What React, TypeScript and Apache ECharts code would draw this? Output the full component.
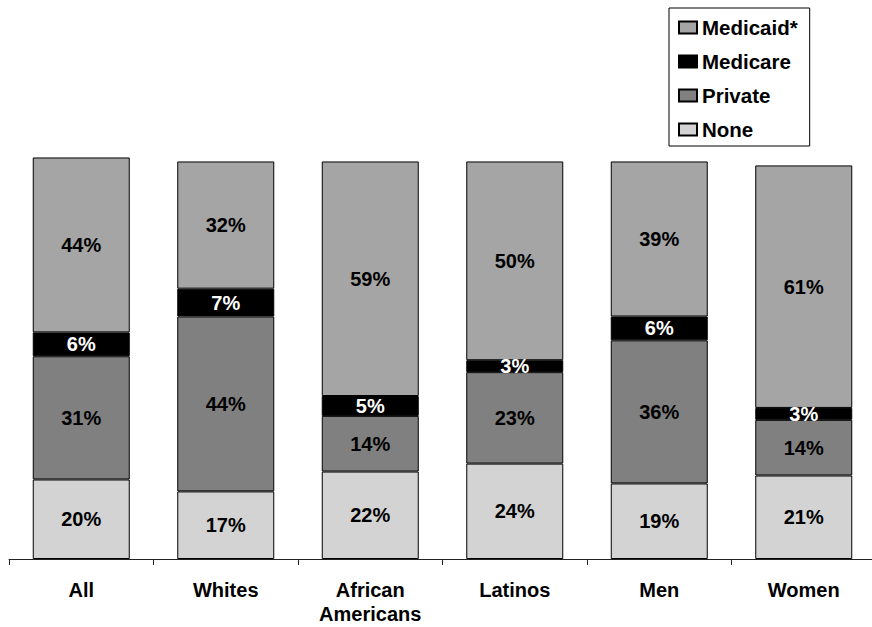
import React, { useEffect, useRef } from "react";
import * as echarts from "echarts";

// Coverage shares by group, stacked bottom-to-top: None, Private, Medicare, Medicaid*
const categories = ["All", "Whites", "African\nAmericans", "Latinos", "Men", "Women"];
const noneValues = [20, 17, 22, 24, 19, 21];
const privateValues = [31, 44, 14, 23, 36, 14];
const medicareValues = [6, 7, 5, 3, 6, 3];
const medicaidValues = [44, 32, 59, 50, 39, 61];

const legendOrder = ["Medicaid*", "Medicare", "Private", "None"];

const FONT = "'Liberation Sans', Arial, Helvetica, sans-serif";

export default function App() {
  const ref = useRef<HTMLDivElement>(null);

  useEffect(() => {
    if (!ref.current) return;
    const chart = echarts.init(ref.current, undefined, { renderer: "svg" });

    const makeSeries = (name: string, data: number[], color: string, labelColor: string) => ({
      name,
      type: "bar",
      stack: "total",
      data,
      barWidth: 97,
      itemStyle: { color, borderColor: "#000", borderWidth: 1 },
      label: {
        show: true,
        position: "inside",
        formatter: "{c}%",
        color: labelColor,
        fontFamily: FONT,
        fontWeight: "bold",
        fontSize: 20,
      },
    });

    chart.setOption({
      animation: false,
      backgroundColor: "#ffffff",
      legend: {
        data: legendOrder,
        orient: "vertical",
        icon: "rect",
        left: 669,
        top: 8,
        padding: [9, 12, 6, 9],
        itemGap: 13,
        itemWidth: 18,
        itemHeight: 12,
        borderColor: "#000",
        borderWidth: 1,
        selectedMode: false,
        textStyle: {
          fontFamily: FONT,
          fontWeight: "bold",
          fontSize: 20.5,
          color: "#000",
          lineHeight: 21,
        },
      },
      grid: {
        left: 9,
        width: 867,
        top: 121.7,
        height: 437.3,
        containLabel: false,
        outerBoundsMode: "none",
      },
      xAxis: {
        type: "category",
        data: categories,
        axisLine: { show: true, lineStyle: { color: "#222", width: 1 } },
        axisTick: { show: true, length: 6, lineStyle: { color: "#222" } },
        axisLabel: {
          interval: 0,
          margin: 19,
          fontFamily: FONT,
          fontWeight: "bold",
          fontSize: 20,
          lineHeight: 24,
          color: "#000",
        },
      },
      yAxis: { type: "value", min: 0, max: 110, show: false, splitLine: { show: false } },
      series: [
        makeSeries("None", noneValues, "#d3d3d3", "#000"),
        makeSeries("Private", privateValues, "#808080", "#000"),
        makeSeries("Medicare", medicareValues, "#000000", "#fff"),
        makeSeries("Medicaid*", medicaidValues, "#a5a5a5", "#000"),
      ],
    });

    return () => chart.dispose();
  }, []);

  return (
    <div
      ref={ref}
      style={{ position: "fixed", left: 0, top: 0, width: 872, height: 627 }}
    />
  );
}
